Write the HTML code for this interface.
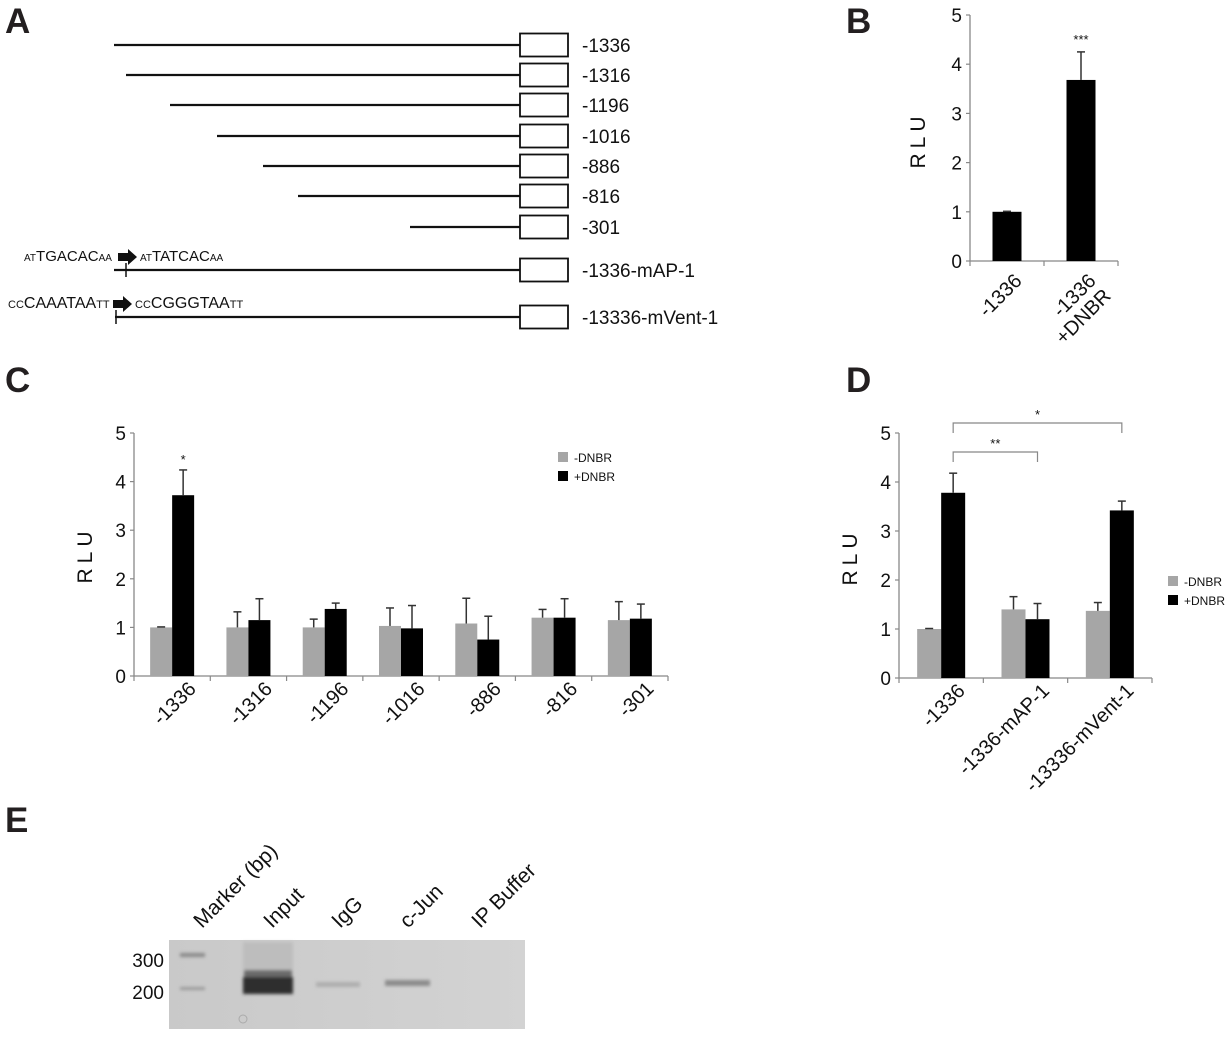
<!DOCTYPE html>
<html><head><meta charset="utf-8">
<style>
html,body{margin:0;padding:0;background:#fff;}
svg{display:block;font-family:"Liberation Sans",Arial,sans-serif;}
</style></head>
<body>
<svg id="fig" width="1228" height="1039" viewBox="0 0 1228 1039" xmlns="http://www.w3.org/2000/svg">
<g font-weight="bold" font-size="35" fill="#231f20">
<text x="5" y="33">A</text>
<text x="846" y="33">B</text>
<text x="5" y="392">C</text>
<text x="846" y="392">D</text>
<text x="5" y="832">E</text>
</g>
<g id="panelA"></g>
<g id="panelB"></g>
<g id="panelC"></g>
<g id="panelD"></g>
<g id="panelE">
  <defs>
    <linearGradient id="gelg" x1="0" y1="0" x2="1" y2="0">
      <stop offset="0" stop-color="#c9c9c9"/><stop offset="1" stop-color="#d3d3d3"/>
    </linearGradient>
    <filter id="blur"><feGaussianBlur stdDeviation="1.5"/></filter>
  </defs>
  <rect x="169" y="940" width="356" height="89" fill="url(#gelg)"/>
  <g filter="url(#blur)">
    <rect x="180" y="953" width="25" height="4" fill="#8a8a8a"/>
    <rect x="180" y="987" width="25" height="3" fill="#9a9a9a"/>
    <rect x="243" y="942" width="50" height="28" fill="#bdbdbd"/>
    <rect x="244" y="970" width="48" height="7" fill="#6a6a6a"/>
    <rect x="243" y="977" width="50" height="17" fill="#2e2e2e"/>
    <rect x="316" y="982" width="44" height="5" fill="#afafaf"/>
    <rect x="385" y="980" width="45" height="6" fill="#8c8c8c"/>
  </g>
  <circle cx="243" cy="1019" r="4" fill="none" stroke="#aaa" stroke-width="1"/>
  <g font-size="19" fill="#111" text-anchor="end">
    <text x="164" y="967">300</text>
    <text x="164" y="999">200</text>
  </g>
  <g font-size="21" fill="#111">
    <text transform="translate(202,929) rotate(-45)">Marker (bp)</text>
    <text transform="translate(272,929) rotate(-45)">Input</text>
    <text transform="translate(340,929) rotate(-45)">IgG</text>
    <text transform="translate(408,929) rotate(-45)">c-Jun</text>
    <text transform="translate(480,929) rotate(-45)">IP Buffer</text>
  </g>
</g>
</svg>
<script>
const NS="http://www.w3.org/2000/svg";
function mk(parent,tag,attrs,txt){const e=document.createElementNS(NS,tag);for(const k in attrs)e.setAttribute(k,attrs[k]);if(txt!==undefined)e.textContent=txt;parent.appendChild(e);return e;}

/* ---------- Panel A data ---------- */
const aLabels=["-1336","-1316","-1196","-1016","-886","-816","-301","-1336-mAP-1","-13336-mVent-1"];
const aStarts=[-1336,-1316,-1196,-1016,-886,-816,-301,-1336,-1336];
/* ---------- Panel B data ---------- */
const bCats=["-1336","-1336\n+DNBR"];
const bVals=[1.0,3.68];
const bErr=[0.01,0.57];
/* ---------- Panel C data ---------- */
const cCats=["-1336","-1316","-1196","-1016","-886","-816","-301"];
const cGray=[1.0,1.0,1.0,1.03,1.08,1.2,1.15];
const cGrayErr=[0.01,0.32,0.17,0.37,0.52,0.17,0.38];
const cBlack=[3.72,1.15,1.38,0.98,0.75,1.2,1.18];
const cBlackErr=[0.52,0.44,0.12,0.47,0.48,0.39,0.3];
/* ---------- Panel D data ---------- */
const dCats=["-1336","-1336-mAP-1","-13336-mVent-1"];
const dGray=[1.0,1.4,1.37];
const dGrayErr=[0.01,0.26,0.17];
const dBlack=[3.78,1.2,3.42];
const dBlackErr=[0.4,0.32,0.19];
const yTicks=[0,1,2,3,4,5];

/* Panel A */
(function(){
 const g=document.getElementById('panelA');
 const rows=[45,75,105,136,166,196,227,270,317];
 const startsX=[114,126,170,217,263,298,410,114,115];
 aLabels.forEach((lab,i)=>{
  const y=rows[i];
  const x0=startsX[i];
  const ln=mk(g,'line',{x1:x0,y1:y,x2:520,y2:y,stroke:'#111','stroke-width':2.2});
  
  
  const bx=mk(g,'rect',{x:520,y:y-11.5,width:48,height:23,fill:'#fff',stroke:'#111','stroke-width':1.8});
  
  
  const t=mk(g,'text',{x:582,y:y+7,'font-size':19,fill:'#111'},lab);
  
  
 });
 mk(g,'line',{x1:126,y1:263,x2:126,y2:277,stroke:'#111','stroke-width':1.5});
 mk(g,'line',{x1:116,y1:310,x2:116,y2:324,stroke:'#111','stroke-width':1.5});
 const seq=[{y:261,parts:[["AT",10],["TGACAC",15],["AA",10]],x:24,parts2:[["AT",10],["TATCAC",15],["AA",10]],ax:118},
            {y:308,parts:[["CC",11],["CAAATAA",16],["TT",11]],x:8,parts2:[["CC",11],["CGGGTAA",16],["TT",11]],ax:113}];
 seq.forEach(s=>{
  const t=mk(g,'text',{x:s.x,y:s.y,fill:'#111'});
  
  
  s.parts.forEach(p=>mk(t,'tspan',{'font-size':p[1]},p[0]));
  mk(g,'path',{d:`M${s.ax} ${s.y-8} h10 v-4 l9 8 l-9 8 v-4 h-10z`,fill:'#111'});
  const t2=mk(g,'text',{x:s.ax+22,y:s.y,fill:'#111'});
  
  
  s.parts2.forEach(p=>mk(t2,'tspan',{'font-size':p[1]},p[0]));
 });
})();

function axes(g,x0,x1,y0,y5,nCats,ylabX,ylabY){
 const ys=v=>y0-v*(y0-y5)/5;
 mk(g,'line',{x1:x0,y1:y5,x2:x0,y2:y0,stroke:'#888','stroke-width':1.3});
 mk(g,'line',{x1:x0,y1:y0,x2:x1,y2:y0,stroke:'#888','stroke-width':1.3});
 yTicks.forEach(v=>{
  mk(g,'line',{x1:x0-4,y1:ys(v),x2:x0,y2:ys(v),stroke:'#888','stroke-width':1.2});
  const t=mk(g,'text',{x:x0-8,y:ys(v)+7,'font-size':19,'text-anchor':'end',fill:'#111'},v);
  
  
 });
 const w=(x1-x0)/nCats;
 for(let i=0;i<=nCats;i++) mk(g,'line',{x1:x0+i*w,y1:y0,x2:x0+i*w,y2:y0+5,stroke:'#888','stroke-width':1.2});
 const yl=mk(g,'text',{transform:`translate(${ylabX},${ylabY}) rotate(-90)`,'font-size':21,'text-anchor':'middle',fill:'#111','letter-spacing':'5'},'RLU');
 
 
 return {ys,w};
}
function errBar(g,cx,top,val,ys){
 mk(g,'line',{x1:cx,y1:ys(val),x2:cx,y2:ys(top),stroke:'#333','stroke-width':1.5});
 mk(g,'line',{x1:cx-4,y1:ys(top),x2:cx+4,y2:ys(top),stroke:'#333','stroke-width':1.5});
}
function catLabel(g,x,y,txt,name){
 const lines=txt.split('\n');
 lines.forEach((ln,k)=>{
  const t=mk(g,'text',{transform:`translate(${x+k*15},${y+k*15}) rotate(-45)`,'font-size':20,'text-anchor':'end',fill:'#111'},ln);
  
  
 });
}
function grouped(g,x0,y0,w,ys,cats,gray,grayE,black,blackE,bw){
 cats.forEach((c,i)=>{
  const cx=x0+w*(i+0.5);
  const gb=mk(g,'rect',{x:cx-bw,y:ys(gray[i]),width:bw,height:ys(0)-ys(gray[i]),fill:'#a6a6a6'});
  
  
  const kb=mk(g,'rect',{x:cx,y:ys(black[i]),width:bw,height:ys(0)-ys(black[i]),fill:'#000'});
  
  
  errBar(g,cx-bw/2,gray[i]+grayE[i],gray[i],ys);
  errBar(g,cx+bw/2,black[i]+blackE[i],black[i],ys);
  catLabel(g,cx+25,y0+14,c,'x-tick-label');
 });
}
function legend(g,x,y){
 const a=mk(g,'rect',{x:x,y:y-6,width:10,height:10,fill:'#a6a6a6'});
 
 const t1=mk(g,'text',{x:x+16,y:y+4,'font-size':12,fill:'#111'},'-DNBR');
 
 const b=mk(g,'rect',{x:x,y:y+13,width:10,height:10,fill:'#000'});
 
 const t2=mk(g,'text',{x:x+16,y:y+23,'font-size':12,fill:'#111'},'+DNBR');
 
}

/* Panel B */
(function(){
 const g=document.getElementById('panelB');
 const x0=970,x1=1118,y0=261,y5=15;
 const {ys,w}=axes(g,x0,x1,y0,y5,bCats.length,925,140);
 bCats.forEach((c,i)=>{
  const cx=x0+w*(i+0.5);
  const r=mk(g,'rect',{x:cx-14.5,y:ys(bVals[i]),width:29,height:ys(0)-ys(bVals[i]),fill:'#000'});
  
  
  errBar(g,cx,bVals[i]+bErr[i],bVals[i],ys);
  catLabel(g,cx+16,y0+21,c,'x-tick-label');
 });
 const s=mk(g,'text',{x:x0+w*1.5,y:ys(bVals[1]+bErr[1])-8,'font-size':13,'text-anchor':'middle',fill:'#111'},'***');
 
})();

/* Panel C */
(function(){
 const g=document.getElementById('panelC');
 const x0=134,x1=668,y0=676,y5=433;
 const {ys,w}=axes(g,x0,x1,y0,y5,cCats.length,92,555);
 grouped(g,x0,y0,w,ys,cCats,cGray,cGrayErr,cBlack,cBlackErr,22);
 const s=mk(g,'text',{x:x0+w*0.5+11,y:ys(cBlack[0]+cBlackErr[0])-6,'font-size':13,'text-anchor':'middle',fill:'#111'},'*');
 
 legend(g,558,458);
})();

/* Panel D */
(function(){
 const g=document.getElementById('panelD');
 const x0=899,x1=1152,y0=678,y5=433;
 const {ys,w}=axes(g,x0,x1,y0,y5,dCats.length,857,557);
 grouped(g,x0,y0,w,ys,dCats,dGray,dGrayErr,dBlack,dBlackErr,24);
 const bx=i=>x0+w*(i+0.5)+12;
 const br=[[0,1,452,'**'],[0,2,423,'*']];
 br.forEach(b=>{
  const p=mk(g,'path',{d:`M${bx(b[0])} ${b[2]+10} V${b[2]} H${bx(b[1])} V${b[2]+10}`,fill:'none',stroke:'#888','stroke-width':1.2});
  
  const t=mk(g,'text',{x:(bx(b[0])+bx(b[1]))/2,y:b[2]-4,'font-size':13,'text-anchor':'middle',fill:'#111'},b[3]);
  
 });
 legend(g,1168,582);
})();
</script>
</body></html>
